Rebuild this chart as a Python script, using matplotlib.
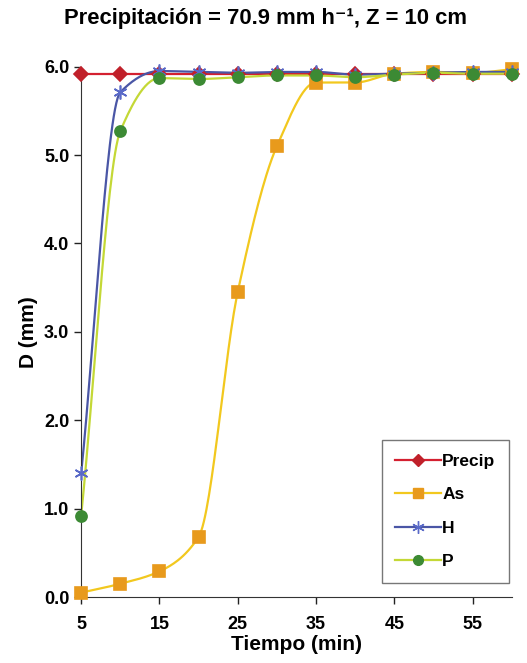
import matplotlib.pyplot as plt
import numpy as np

plt.rcParams["font.family"] = ["Liberation Sans", "DejaVu Sans"]
plt.rcParams["font.weight"] = "bold"

tiempo = [5, 10, 15, 20, 25, 30, 35, 40, 45, 50, 55, 60]
precip = [5.92, 5.92, 5.92, 5.92, 5.92, 5.92, 5.92, 5.92, 5.92, 5.92, 5.92, 5.92]
as_vals = [0.05, 0.15, 0.29, 0.68, 3.45, 5.10, 5.82, 5.82, 5.92, 5.94, 5.93, 5.97]
h_vals = [1.40, 5.71, 5.95, 5.94, 5.93, 5.94, 5.94, 5.91, 5.92, 5.93, 5.94, 5.94]
p_vals = [0.92, 5.27, 5.87, 5.86, 5.88, 5.90, 5.90, 5.88, 5.91, 5.93, 5.92, 5.92]


def smooth(x, y, n=30):
    # monotone cubic (Fritsch-Carlson) curve through the points
    x = np.asarray(x, float)
    y = np.asarray(y, float)
    h = np.diff(x)
    d = np.diff(y) / h
    m = np.zeros_like(y)
    m[0], m[-1] = d[0], d[-1]
    for i in range(1, len(y) - 1):
        if d[i - 1] * d[i] > 0:
            w1 = 2 * h[i] + h[i - 1]
            w2 = h[i] + 2 * h[i - 1]
            m[i] = (w1 + w2) / (w1 / d[i - 1] + w2 / d[i])
    xs, ys = [], []
    t = np.linspace(0, 1, n, endpoint=False)
    for i in range(len(x) - 1):
        h00 = 2 * t ** 3 - 3 * t ** 2 + 1
        h10 = t ** 3 - 2 * t ** 2 + t
        h01 = -2 * t ** 3 + 3 * t ** 2
        h11 = t ** 3 - t ** 2
        xs.extend(x[i] + t * h[i])
        ys.extend(h00 * y[i] + h10 * h[i] * m[i] + h01 * y[i + 1] + h11 * h[i] * m[i + 1])
    xs.append(x[-1])
    ys.append(y[-1])
    return np.array(xs), np.array(ys)


series = [
    ("Precip", precip, "#d42030", "D", "#c0202a", 7),
    ("As", as_vals, "#f2c81e", "s", "#e89a1c", 8),
    ("H", h_vals, "#4a56a6", (6, 2, 0), "#5a6ac8", 10),
    ("P", p_vals, "#c4d836", "o", "#3c8a34", 8),
]

fig = plt.figure(figsize=(5.27, 6.63), dpi=100)
ax = fig.add_axes([0.154, 0.0995, 0.817, 0.80])

for label, vals, lc, mk, mc, ms in series:
    sx, sy = smooth(tiempo, vals)
    ax.plot(sx, sy, color=lc, linewidth=1.6, zorder=2)
    ax.plot(tiempo, vals, linestyle="none", marker=mk, markersize=ms,
            markerfacecolor=mc, markeredgecolor=mc, markeredgewidth=1.2,
            zorder=3, clip_on=False)
    ax.plot([], [], color=lc, linewidth=1.6, marker=mk, markersize=ms - 1,
            markerfacecolor=mc, markeredgecolor=mc, label=label)

ax.set_xlim(5, 60)
ax.set_ylim(0, 6.0)
ax.set_xticks([5, 15, 25, 35, 45, 55])
ax.set_yticks(np.arange(0, 6.01, 1.0))
ax.set_yticklabels([f"{v:.1f}" for v in np.arange(0, 6.01, 1.0)])
ax.tick_params(axis="both", labelsize=13, width=1, length=5, colors="#222222")
ax.tick_params(axis="x", pad=9)
for lab in ax.get_xticklabels() + ax.get_yticklabels():
    lab.set_fontweight("bold")
    lab.set_color("black")

for side in ("top", "right"):
    ax.spines[side].set_visible(False)
ax.spines["left"].set_color("#333333")
ax.spines["bottom"].set_color("#333333")

ax.set_xlabel("Tiempo (min)", fontsize=15, fontweight="bold", labelpad=1)
ax.set_ylabel("D (mm)", fontsize=15, fontweight="bold", labelpad=4)
fig.text(0.503, 0.972, "Precipitación = 70.9 mm h⁻¹, Z = 10 cm",
         ha="center", va="center", fontsize=15.8, fontweight="bold")

leg = ax.legend(loc="lower right", bbox_to_anchor=(1.015, 0.01), fontsize=12.5,
                frameon=True, fancybox=False, edgecolor="#555555",
                handlelength=2.6, labelspacing=1.05, borderpad=0.8,
                handletextpad=0.1)
leg.get_frame().set_linewidth(1.0)

fig.savefig("out.png", dpi=100)
